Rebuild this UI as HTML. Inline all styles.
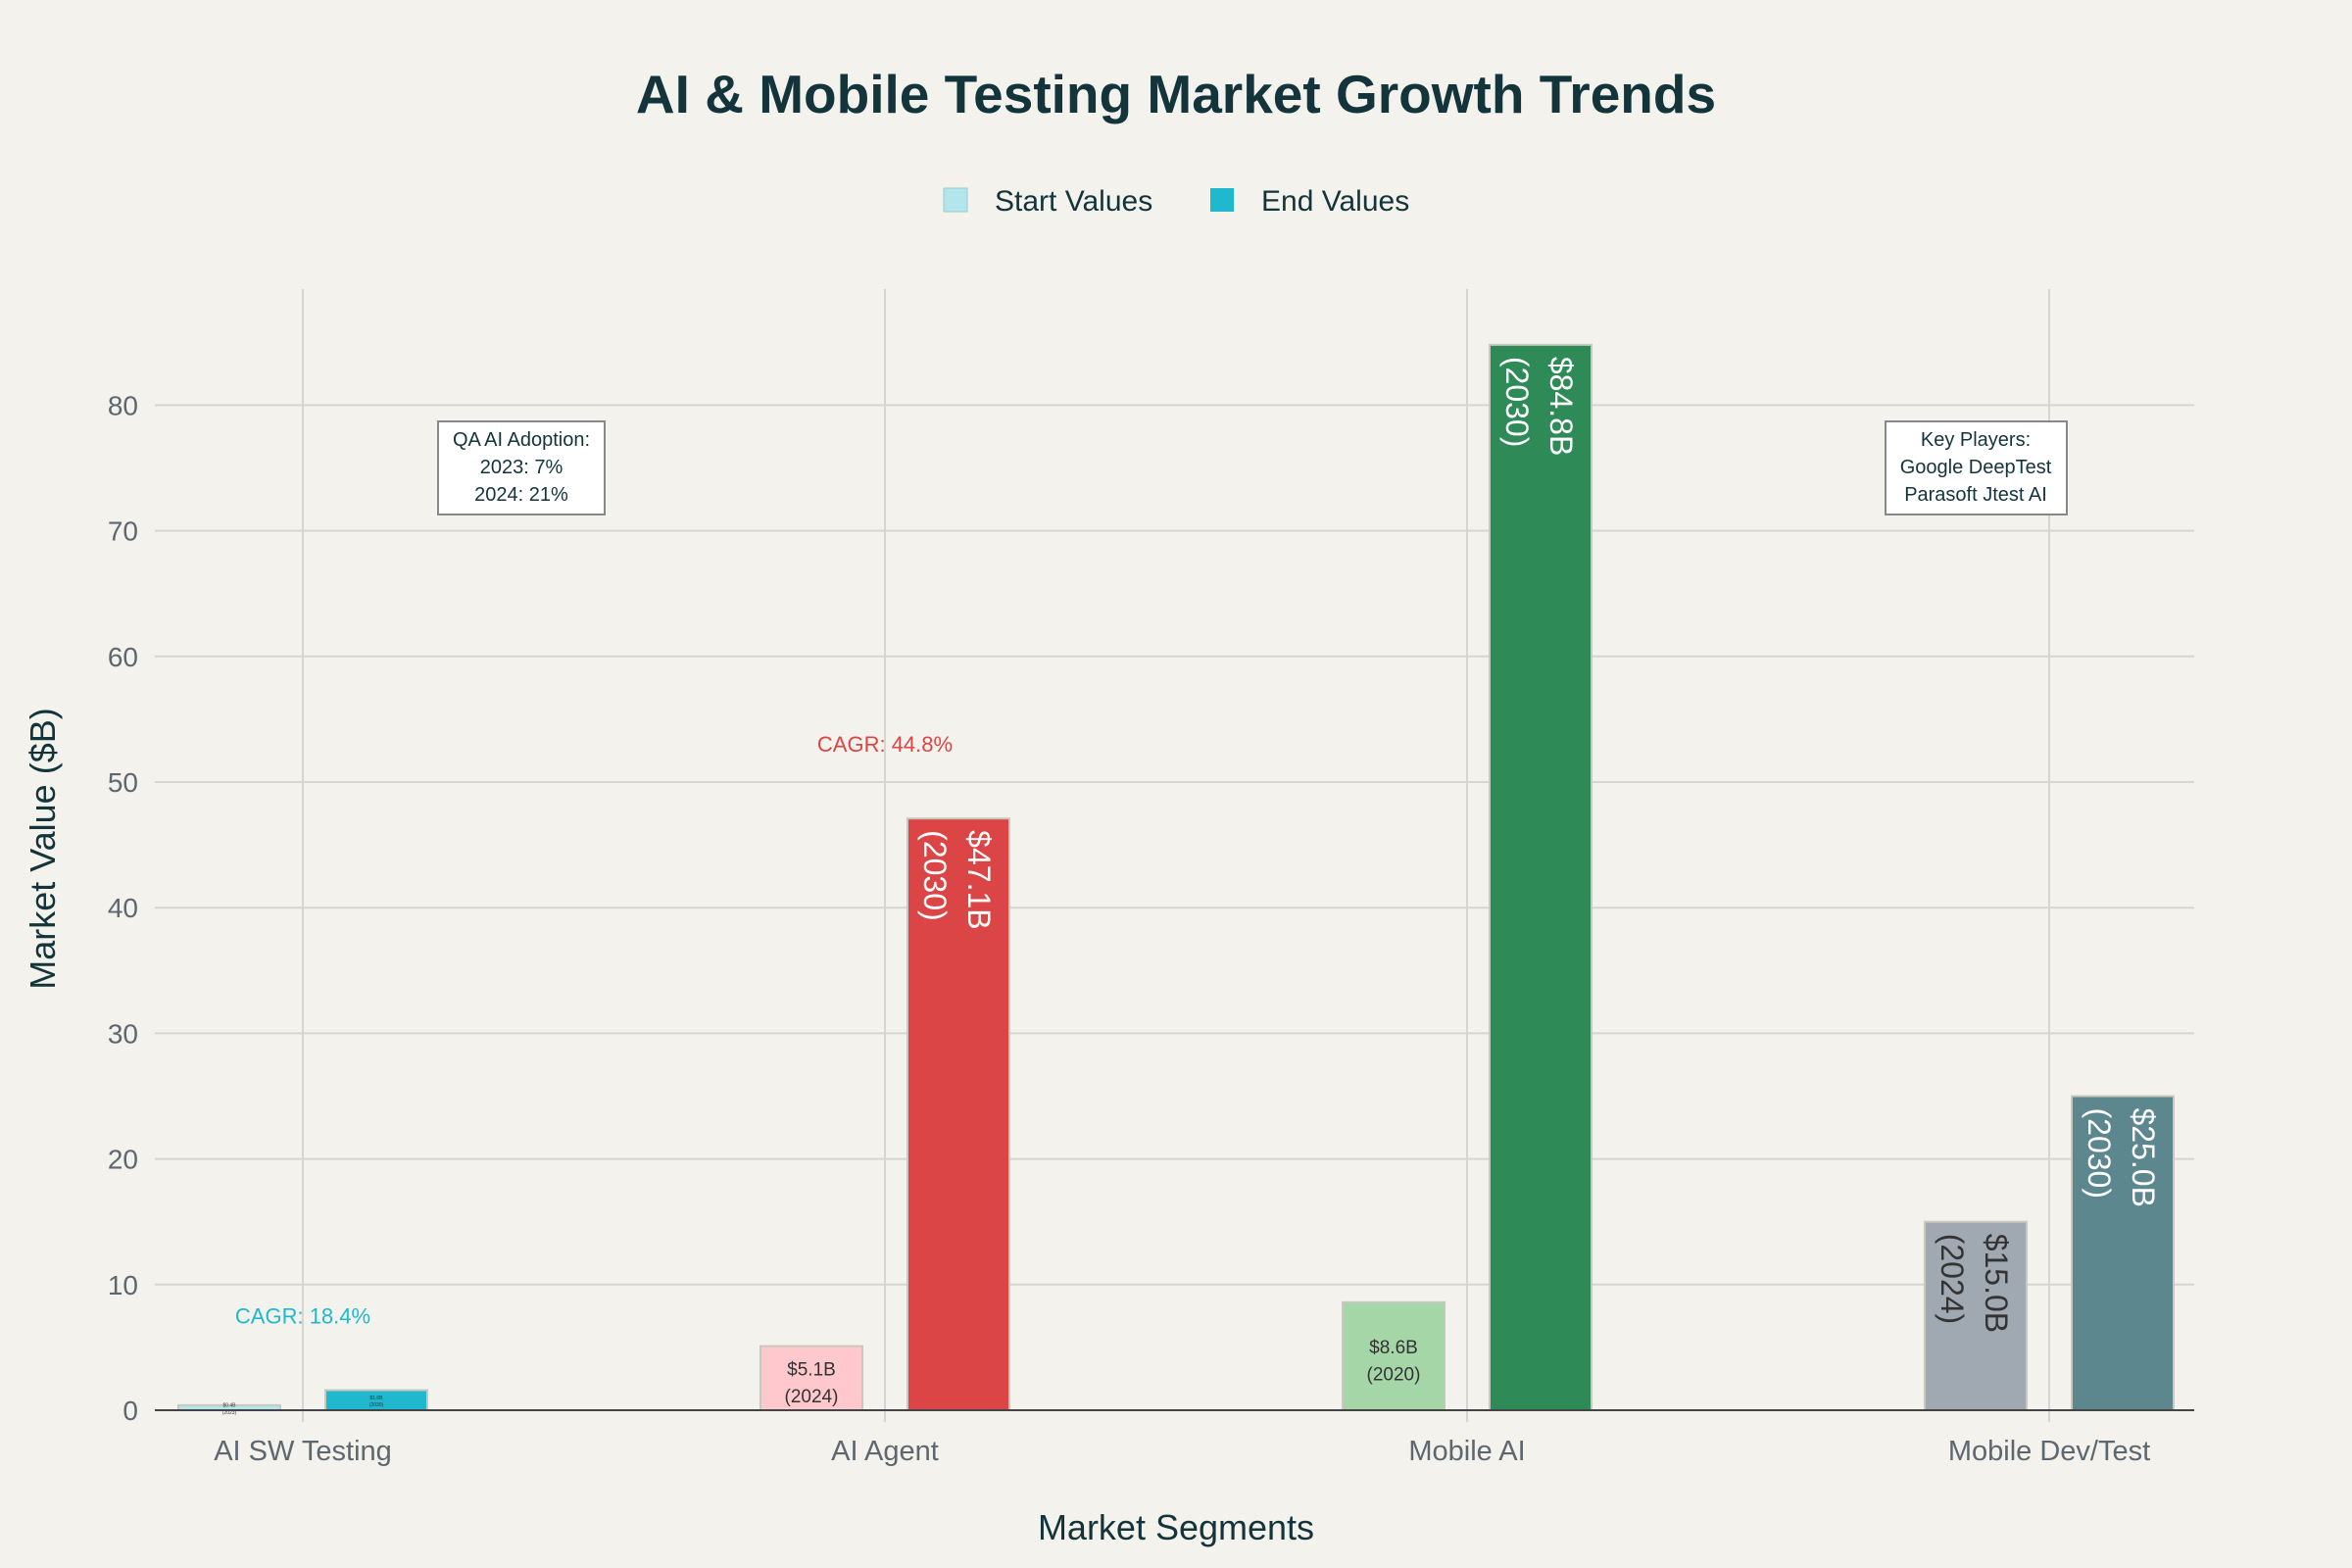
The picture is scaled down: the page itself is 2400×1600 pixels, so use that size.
<!DOCTYPE html>
<html><head><meta charset="utf-8"><style>
html,body{margin:0;padding:0;background:#F3F2EC;}
svg{display:block;font-family:"Liberation Sans",sans-serif;}
</style></head><body>
<svg id="chart" width="2400" height="1600" viewBox="0 0 2400 1600">
<rect x="0" y="0" width="2400" height="1600" fill="#F3F2EC"/>
<text x="1200" y="115" text-anchor="middle" font-size="55" font-weight="bold" fill="#13343B">AI &amp; Mobile Testing Market Growth Trends</text>
<g>
<g><rect x="963" y="192" width="24" height="24" fill="#B3E5EC" stroke="#9cc" stroke-width="1"/><text x="1015" y="215" font-size="30" fill="#13343B">Start Values</text></g>
<g><rect x="1235" y="192" width="24" height="24" fill="#1FB8CD"/><text x="1287" y="215" font-size="30" fill="#13343B">End Values</text></g>
</g>
<g id="grid"></g>
<g id="bars"></g>
<g id="labels"></g>
<text transform="translate(56,866) rotate(-90)" text-anchor="middle" font-size="36" fill="#13343B">Market Value ($B)</text>
<text x="1200" y="1571" text-anchor="middle" font-size="36" fill="#13343B">Market Segments</text>
<g>
<rect x="447" y="430" width="170" height="95" fill="#fff" stroke="#888" stroke-width="2"/>
<text x="532" y="455" text-anchor="middle" font-size="20" fill="#13343B">QA AI Adoption:</text>
<text x="532" y="483" text-anchor="middle" font-size="20" fill="#13343B">2023: 7%</text>
<text x="532" y="511" text-anchor="middle" font-size="20" fill="#13343B">2024: 21%</text>
</g>
<g>
<rect x="1924" y="430" width="185" height="95" fill="#fff" stroke="#888" stroke-width="2"/>
<text x="2016" y="455" text-anchor="middle" font-size="20" fill="#13343B">Key Players:</text>
<text x="2016" y="483" text-anchor="middle" font-size="20" fill="#13343B">Google DeepTest</text>
<text x="2016" y="511" text-anchor="middle" font-size="20" fill="#13343B">Parasoft Jtest AI</text>
</g>
</svg>
<script>
const categories = ["AI SW Testing", "AI Agent", "Mobile AI", "Mobile Dev/Test"];
const startValues = [0.4, 5.1, 8.6, 15.0];
const endValues = [1.6, 47.1, 84.8, 25.0];
const startYears = ["2023", "2024", "2020", "2024"];
const endYears = ["2030", "2030", "2030", "2030"];
const yTicks = [0, 10, 20, 30, 40, 50, 60, 70, 80];
const cagrLabels = ["CAGR: 18.4%", "CAGR: 44.8%", "", ""];
const startColors = ["#B3E5EC", "#FFC8CC", "#A5D6A7", "#A0A8B1"];
const endColors = ["#1FB8CD", "#DB4545", "#2E8B57", "#5D878F"];

const NS = "http://www.w3.org/2000/svg";
const plotL = 158, plotR = 2239, plotT = 295, y0 = 1439, perUnit = 12.82;
const catStart = 309, catStep = 594, barOff = 75, barW = 104;
function yScale(v) { return y0 - v * perUnit; }
function xScale(i) { return catStart + i * catStep; }
function mk(tag, attrs, parent) {
  const e = document.createElementNS(NS, tag);
  for (const k in attrs) e.setAttribute(k, attrs[k]);
  parent.appendChild(e);
  return e;
}
const grid = document.getElementById("grid");
const bars = document.getElementById("bars");
const labels = document.getElementById("labels");
const svg = document.getElementById("chart");

yTicks.forEach(t => {
  const y = yScale(t);
  if (t > 0) {
    const l = mk("line", {x1: plotL, x2: plotR, y1: y, y2: y, stroke: "#D6D5D1", "stroke-width": 2}, grid);
    
    
  }
  const tx = mk("text", {x: 141, y: y + 10, "text-anchor": "end", "font-size": 28, fill: "#5E6770"}, grid);
  tx.textContent = t;
  
  
});
categories.forEach((c, i) => {
  const x = xScale(i);
  const l = mk("line", {x1: x, x2: x, y1: plotT, y2: y0 + 12, stroke: "#D6D5D1", "stroke-width": 2}, grid);
  
  
  const tx = mk("text", {x: x, y: 1490, "text-anchor": "middle", "font-size": 29, fill: "#5E6770"}, grid);
  tx.textContent = c;
  
  
});

function rotLabel(xr, ytop, v, yr, color, parent) {
  const g = mk("text", {transform: "translate(" + (xr - 42) + "," + (ytop + 12) + ") rotate(90)", "font-size": 32, fill: color}, parent);
  const t1 = mk("tspan", {x: 0, y: 0}, g); t1.textContent = "$" + v.toFixed(1) + "B";
  const t2 = mk("tspan", {x: 0, y: 45}, g); t2.textContent = "(" + yr + ")";
  
  
}
function smallLabel(xc, ytop, h, v, yr, parent) {
  const fs = h > 40 ? 19 : 5;
  const cy = ytop + h / 2;
  const g = mk("text", {x: xc, y: cy - fs * 0.15, "text-anchor": "middle", "font-size": fs, fill: "#333"}, parent);
  const t1 = mk("tspan", {x: xc, dy: 0}, g); t1.textContent = "$" + v.toFixed(1) + "B";
  const t2 = mk("tspan", {x: xc, dy: fs * 1.45}, g); t2.textContent = "(" + yr + ")";
  
  
}

categories.forEach((c, i) => {
  const xc = xScale(i);
  const sx = xc - barOff - barW / 2, ex = xc + barOff - barW / 2;
  const sy = yScale(startValues[i]), ey = yScale(endValues[i]);
  const sb = mk("rect", {x: sx, y: sy, width: barW, height: y0 - sy, fill: startColors[i], stroke: "#C8C8C0", "stroke-width": 2}, bars);
  
  
  const eb = mk("rect", {x: ex, y: ey, width: barW, height: y0 - ey, fill: endColors[i], stroke: "#C8C8C0", "stroke-width": 2}, bars);
  
  
  const sh = y0 - sy, eh = y0 - ey;
  if (sh > 150) rotLabel(sx + barW, sy, startValues[i], startYears[i], "#333", labels);
  else smallLabel(sx + barW / 2, sy, sh, startValues[i], startYears[i], labels);
  if (eh > 150) rotLabel(ex + barW, ey, endValues[i], endYears[i], "#fff", labels);
  else smallLabel(ex + barW / 2, ey, eh, endValues[i], endYears[i], labels);
  if (cagrLabels[i]) {
    const t = mk("text", {x: xc, y: yScale(endValues[i] + 5.3), "text-anchor": "middle", "font-size": 22, fill: endColors[i]}, labels);
    t.textContent = cagrLabels[i];
    
    
  }
});
const ax = mk("line", {x1: plotL, x2: plotR, y1: y0, y2: y0, stroke: "#444", "stroke-width": 2}, svg);


</script>
</body></html>
